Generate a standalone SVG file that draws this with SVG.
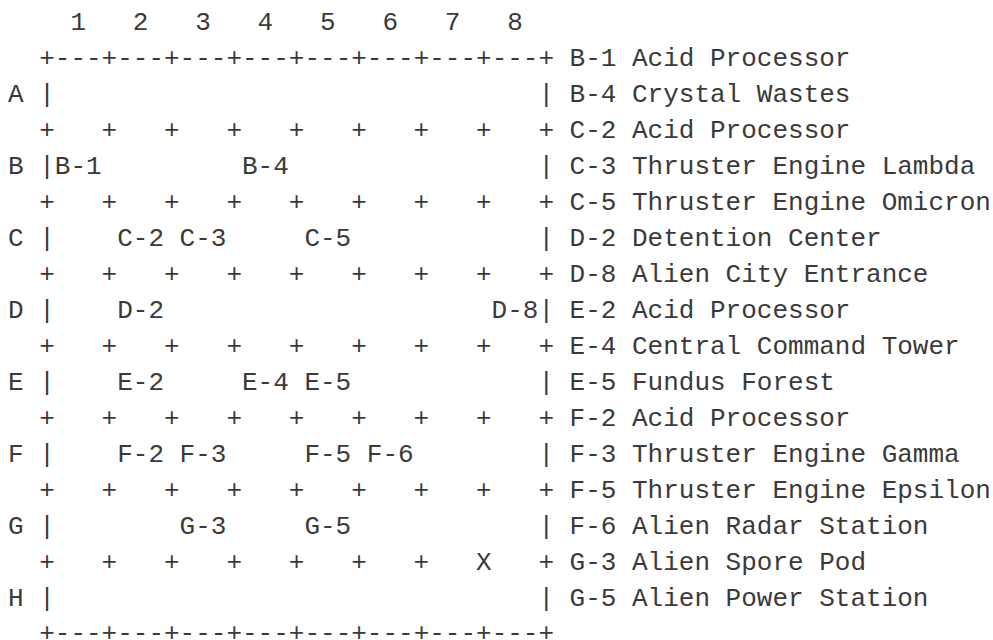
<svg xmlns="http://www.w3.org/2000/svg" width="993" height="640" viewBox="0 0 993 640" xml:space="preserve">
<style>
text { font-family: "Liberation Mono", "Courier New", monospace; font-size: 26px; fill: #3a3a3a; white-space: pre; }
</style>
<rect width="993" height="640" fill="#ffffff"/>
<g id="column-numbers">
<text x="70.4 132.8 195.2 257.6 320 382.4 444.8 507.2" y="30">12345678</text>
</g>
<g id="grid">
<text x="39.2" y="66">+---+---+---+---+---+---+---+---+</text>
<text x="39.2 101.6 164 226.4 288.8 351.2 413.6 476 538.4" y="138">+++++++++</text>
<text x="39.2 101.6 164 226.4 288.8 351.2 413.6 476 538.4" y="210">+++++++++</text>
<text x="39.2 101.6 164 226.4 288.8 351.2 413.6 476 538.4" y="282">+++++++++</text>
<text x="39.2 101.6 164 226.4 288.8 351.2 413.6 476 538.4" y="354">+++++++++</text>
<text x="39.2 101.6 164 226.4 288.8 351.2 413.6 476 538.4" y="426">+++++++++</text>
<text x="39.2 101.6 164 226.4 288.8 351.2 413.6 476 538.4" y="498">+++++++++</text>
<text x="39.2 101.6 164 226.4 288.8 351.2 413.6 476 538.4" y="570">+++++++X+</text>
<text x="39.2" y="641">+---+---+---+---+---+---+---+---+</text>
</g>
<g id="left-border">
<text x="39.2" y="102">|</text>
<text x="39.2" y="174">|</text>
<text x="39.2" y="246">|</text>
<text x="39.2" y="318">|</text>
<text x="39.2" y="390">|</text>
<text x="39.2" y="462">|</text>
<text x="39.2" y="534">|</text>
<text x="39.2" y="606">|</text>
</g>
<g id="right-border">
<text x="538.4" y="102">|</text>
<text x="538.4" y="174">|</text>
<text x="538.4" y="246">|</text>
<text x="538.4" y="318">|</text>
<text x="538.4" y="390">|</text>
<text x="538.4" y="462">|</text>
<text x="538.4" y="534">|</text>
<text x="538.4" y="606">|</text>
</g>
<g id="row-labels">
<text x="8" y="102">A</text>
<text x="8" y="174">B</text>
<text x="8" y="246">C</text>
<text x="8" y="318">D</text>
<text x="8" y="390">E</text>
<text x="8" y="462">F</text>
<text x="8" y="534">G</text>
<text x="8" y="606">H</text>
</g>
<g id="cells">
<text id="cell-B1" x="54.8" y="174">B-1</text>
<text id="cell-B4" x="242" y="174">B-4</text>
<text id="cell-C2" x="117.2" y="246">C-2</text>
<text id="cell-C3" x="179.6" y="246">C-3</text>
<text id="cell-C5" x="304.4" y="246">C-5</text>
<text id="cell-D2" x="117.2" y="318">D-2</text>
<text id="cell-D8" x="491.6" y="318">D-8</text>
<text id="cell-E2" x="117.2" y="390">E-2</text>
<text id="cell-E4" x="242" y="390">E-4</text>
<text id="cell-E5" x="304.4" y="390">E-5</text>
<text id="cell-F2" x="117.2" y="462">F-2</text>
<text id="cell-F3" x="179.6" y="462">F-3</text>
<text id="cell-F5" x="304.4" y="462">F-5</text>
<text id="cell-F6" x="366.8" y="462">F-6</text>
<text id="cell-G3" x="179.6" y="534">G-3</text>
<text id="cell-G5" x="304.4" y="534">G-5</text>
</g>
<g id="legend">
<text x="569.6" y="66">B-1 Acid Processor</text>
<text x="569.6" y="102">B-4 Crystal Wastes</text>
<text x="569.6" y="138">C-2 Acid Processor</text>
<text x="569.6" y="174">C-3 Thruster Engine Lambda</text>
<text x="569.6" y="210">C-5 Thruster Engine Omicron</text>
<text x="569.6" y="246">D-2 Detention Center</text>
<text x="569.6" y="282">D-8 Alien City Entrance</text>
<text x="569.6" y="318">E-2 Acid Processor</text>
<text x="569.6" y="354">E-4 Central Command Tower</text>
<text x="569.6" y="390">E-5 Fundus Forest</text>
<text x="569.6" y="426">F-2 Acid Processor</text>
<text x="569.6" y="462">F-3 Thruster Engine Gamma</text>
<text x="569.6" y="498">F-5 Thruster Engine Epsilon</text>
<text x="569.6" y="534">F-6 Alien Radar Station</text>
<text x="569.6" y="570">G-3 Alien Spore Pod</text>
<text x="569.6" y="606">G-5 Alien Power Station</text>
</g>
</svg>
